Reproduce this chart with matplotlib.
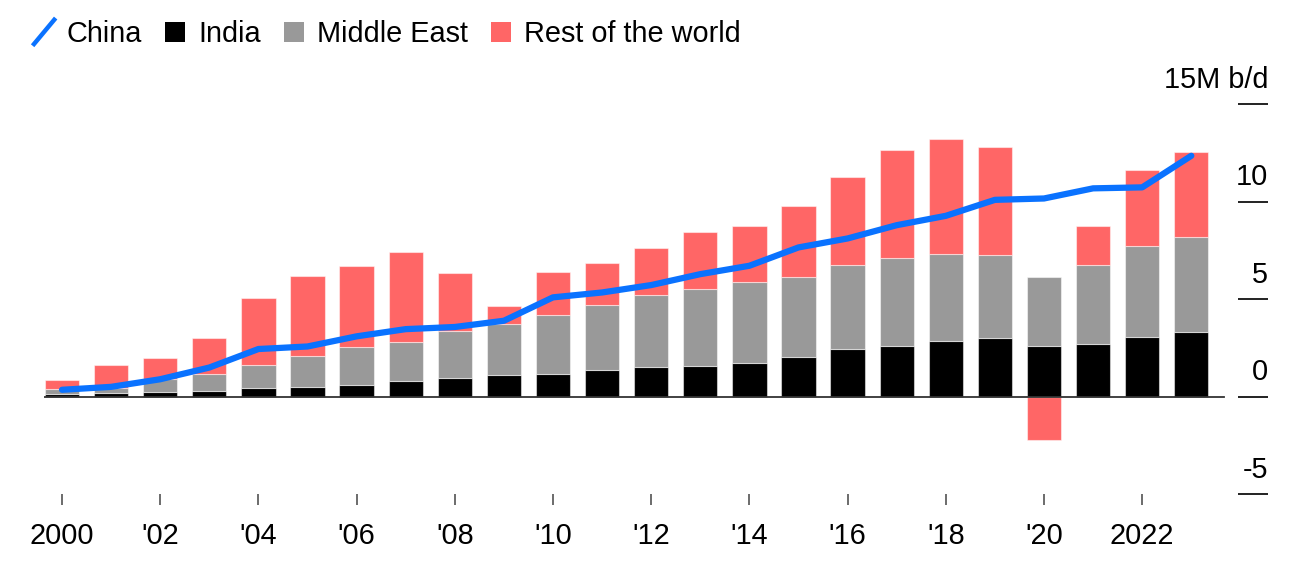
import numpy as np
import matplotlib.pyplot as plt
from matplotlib.lines import Line2D
from matplotlib.patches import Patch
from matplotlib.legend_handler import HandlerBase

plt.rcParams["font.family"] = ["Liberation Sans", "DejaVu Sans"]

# Data (million barrels per day)
years = np.arange(2000, 2024)
india = [0.14, 0.17, 0.24, 0.29, 0.43, 0.48, 0.62, 0.82, 0.96, 1.11, 1.18, 1.35,
         1.54, 1.59, 1.73, 2.04, 2.44, 2.62, 2.87, 3.03, 2.60, 2.70, 3.08, 3.30]
middle_east = [0.24, 0.28, 0.66, 0.86, 1.20, 1.61, 1.91, 1.98, 2.44, 2.63, 3.04, 3.35,
               3.66, 3.93, 4.14, 4.08, 4.33, 4.48, 4.43, 4.22, 3.55, 4.04, 4.63, 4.89]
rest_of_world = [0.47, 1.18, 1.08, 1.86, 3.42, 4.13, 4.16, 4.64, 2.95, 0.91, 2.17, 2.14,
                 2.41, 2.93, 2.90, 3.66, 4.50, 5.54, 5.93, 5.55, -2.20, 2.00, 3.90, 4.36]
china = [0.36, 0.51, 0.90, 1.50, 2.45, 2.58, 3.10, 3.47, 3.58, 3.90, 5.10, 5.35,
         5.73, 6.29, 6.72, 7.66, 8.12, 8.80, 9.28, 10.10, 10.17, 10.69, 10.74, 12.36]

xtick_years = list(range(2000, 2023, 2))
xtick_labels = ["2000"] + ["'%02d" % (y % 100) for y in range(2002, 2021, 2)] + ["2022"]
yticks = [-5, 0, 5, 10, 15]
ytick_labels = ["-5", "0", "5", "10", "15M b/d"]

BLUE = "#0a72ff"
RED = "#ff6666"
GRAY = "#999999"
BLACK = "#000000"
FS = 20.8


class SlashHandler(HandlerBase):
    # legend key drawn as a short diagonal stroke
    def create_artists(self, legend, orig_handle, xdescent, ydescent,
                       width, height, fontsize, trans):
        x0, y0 = -xdescent, -ydescent
        line = Line2D([x0 + 0.05 * width, x0 + 1.05 * width],
                      [y0 - 0.1 * height, y0 + 1.1 * height],
                      color=orig_handle.get_color(), lw=3.2, transform=trans)
        return [line]


fig = plt.figure(figsize=(12.96, 5.84), dpi=100)
ax = fig.add_axes([44 / 1296, 89.7 / 584, 1224 / 1296, 390 / 584])

india_a = np.array(india)
me_a = np.array(middle_east)
rest_a = np.array(rest_of_world)
rest_bottom = np.where(rest_a >= 0, india_a + me_a, 0)

bar_kw = dict(width=0.7, edgecolor=(1, 1, 1, 0.5), linewidth=0.8, zorder=2)
ax.bar(years, india_a, color=BLACK, **bar_kw)
ax.bar(years, me_a, bottom=india_a, color=GRAY, **bar_kw)
ax.bar(years, rest_a, bottom=rest_bottom, color=RED, **bar_kw)

ax.axhline(0, xmin=0, xmax=1180 / 1224, color="#333333", lw=1.3, zorder=3)
ax.plot(years, china, color=BLUE, lw=4.5, solid_capstyle="round",
        solid_joinstyle="round", zorder=5)

ax.set_xlim(2000 - 18 / 49.1, 2000 + 1206 / 49.1)
ax.set_ylim(-5, 15)

for s in ax.spines.values():
    s.set_visible(False)

ax.set_xticks(xtick_years)
ax.set_xticklabels(xtick_labels, fontsize=FS)
ax.tick_params(axis="x", direction="out", length=8, width=1.1, color="#444444",
               pad=12)

ax.set_yticks(yticks)
ax.tick_params(axis="y", left=False, right=True, labelleft=False, labelright=False,
               direction="in", length=21.6, width=1.3, color="#111111")
ytrans = ax.get_yaxis_transform()
for val, lab in zip(yticks, ytick_labels):
    ax.annotate(lab, xy=(1, val), xycoords=ytrans, xytext=(0, 12),
                textcoords="offset points", ha="right", va="baseline", fontsize=FS)

handles = [
    Line2D([], [], color=BLUE),
    Patch(facecolor=BLACK),
    Patch(facecolor=GRAY),
    Patch(facecolor=RED),
]
labels = ["China", "India", "Middle East", "Rest of the world"]
fig.legend(handles, labels, loc="upper left", bbox_to_anchor=(33 / 1296, 1 - 20 / 584),
           ncol=4, frameon=False, fontsize=FS, handlelength=0.7, handleheight=0.7,
           handletextpad=0.45, columnspacing=0.8, borderpad=0, borderaxespad=0,
           handler_map={Line2D: SlashHandler()})

fig.savefig("out.png", dpi=100)
